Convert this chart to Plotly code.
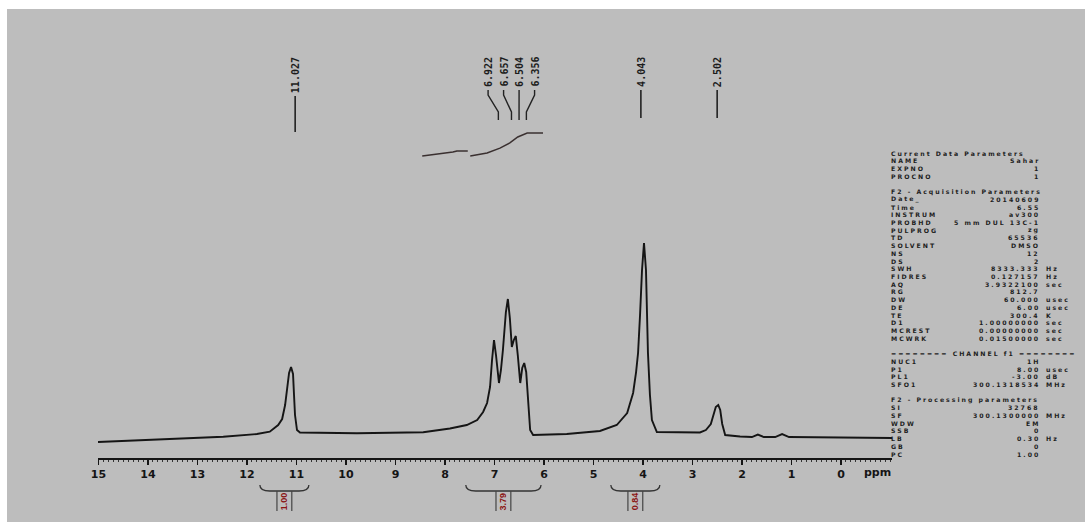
import plotly.graph_objects as go

W, H = 1085, 522

# ---------------- data ----------------
spec_ppm = [15.01, 13.49, 12.48, 11.80, 11.54, 11.37, 11.29, 11.23, 11.19, 11.15, 11.11, 11.07, 11.05, 11.03,
            10.99, 10.93, 9.78, 8.44, 7.90, 7.56, 7.35, 7.23, 7.15, 7.09, 7.05, 7.01, 6.97, 6.91, 6.87, 6.83,
            6.77, 6.73, 6.69, 6.65, 6.61, 6.57, 6.53, 6.48, 6.44, 6.40, 6.36, 6.32, 6.28, 6.22, 5.54, 4.87,
            4.53, 4.32, 4.20, 4.14, 4.10, 4.06, 4.02, 3.98, 3.94, 3.90, 3.86, 3.82, 3.72, 2.85, 2.73, 2.63,
            2.57, 2.53, 2.48, 2.44, 2.40, 2.34, 2.04, 1.80, 1.68, 1.56, 1.33, 1.19, 1.05, 0.42, -1.03]
spec_int = [-4.19, -2.62, -1.41, 0.0, 1.20, 4.71, 7.85, 15.18, 24.08, 31.94, 35.08, 31.41, 20.42, 9.95,
            2.09, 0.79, 0.37, 0.89, 2.88, 4.71, 7.33, 11.52, 16.23, 24.61, 38.74, 49.21, 41.36, 26.70, 33.51, 43.98,
            63.87, 70.68, 60.73, 45.55, 49.21, 51.31, 41.36, 26.70, 34.55, 37.17, 32.46, 15.18, 2.09, -0.52, 0.0, 1.57,
            4.71, 10.99, 21.47, 32.46, 42.41, 62.30, 85.86, 100.0, 85.86, 42.41, 20.42, 7.33, 1.05, 0.79, 2.09, 5.24,
            9.95, 14.14, 15.18, 12.57, 5.24, -0.52, -1.31, -1.57, -0.26, -1.57, -1.57, 0.0, -1.57, -1.83, -2.09]

peak_labels = ["11.027", "6.922", "6.657", "6.504", "6.356", "4.043", "2.502"]
peak_ppm = [11.027, 6.922, 6.657, 6.504, 6.356, 4.043, 2.502]

integral_labels = ["1.00", "3.79", "0.84"]
integral_start = [11.74, 7.58, 4.65]
integral_end = [10.75, 6.06, 3.66]

int_curve1_ppm = [8.46, 8.10, 7.90, 7.84, 7.76, 7.54]
int_curve1_val = [145.5, 146.6, 147.1, 147.6, 148.2, 148.2]
int_curve2_ppm = [7.49, 7.15, 6.89, 6.69, 6.53, 6.34, 6.02]
int_curve2_val = [145.5, 147.1, 149.7, 152.4, 155.5, 157.6, 157.6]

tick_values = list(range(0, 16))
tick_labels = [str(v) for v in tick_values]

param_keys = ["Current Data Parameters", "NAME", "EXPNO", "PROCNO", "",
              "F2 - Acquisition Parameters", "Date_", "Time", "INSTRUM", "PROBHD", "PULPROG", "TD",
              "SOLVENT", "NS", "DS", "SWH", "FIDRES", "AQ", "RG", "DW", "DE", "TE", "D1", "MCREST", "MCWRK", "",
              "======== CHANNEL f1 ========", "NUC1", "P1", "PL1", "SFO1", "",
              "F2 - Processing parameters", "SI", "SF", "WDW", "SSB", "LB", "GB", "PC"]
param_values = ["", "Sahar", "1", "1", "",
                "", "20140609", "6.55", "av300", "5 mm DUL 13C-1", "zg", "65536",
                "DMSO", "12", "2", "8333.333", "0.127157", "3.9322100", "812.7", "60.000", "6.00", "300.4",
                "1.00000000", "0.00000000", "0.01500000", "",
                "", "1H", "8.00", "-3.00", "300.1318534", "",
                "", "32768", "300.1300000", "EM", "0", "0.30", "0", "1.00"]
param_units = ["", "", "", "", "",
               "", "", "", "", "", "", "",
               "", "", "", "Hz", "Hz", "sec", "", "usec", "usec", "K", "sec", "sec", "sec", "",
               "", "", "usec", "dB", "MHz", "",
               "", "", "MHz", "", "", "Hz", "", ""]

# ---------------- layout helpers ----------------
def px(x):
    return x / W

def py(y):
    return 1 - y / H

def spaced(t, sp=2.0):
    return f'<span style="letter-spacing:{sp}px">{t}</span>'

BG = "#bdbdbd"
INK = "#151515"

fig = go.Figure()

fig.add_trace(go.Scatter(x=spec_ppm, y=spec_int, mode="lines",
                         line=dict(color=INK, width=1.9), hoverinfo="skip"))
fig.add_trace(go.Scatter(x=int_curve1_ppm, y=int_curve1_val, mode="lines",
                         line=dict(color="#3a3030", width=1.5), hoverinfo="skip"))
fig.add_trace(go.Scatter(x=int_curve2_ppm, y=int_curve2_val, mode="lines",
                         line=dict(color="#3a3030", width=1.5), hoverinfo="skip"))

shapes = [dict(type="rect", xref="paper", yref="paper", x0=px(7), x1=1, y0=0, y1=py(9),
               fillcolor=BG, line=dict(width=0), layer="below")]
annotations = []

# peak labels
mono = "DejaVu Sans Mono"
multiplet = [1, 2, 3, 4]
centre = 6.66
spacing = 0.313
line_bottom = {0: 132, 5: 118, 6: 118}
for i, (lab, p) in enumerate(zip(peak_labels, peak_ppm)):
    if i in multiplet:
        k = multiplet.index(i)
        lx = centre + spacing * (1.5 - k)
        path = f"M {lx},{py(90)} L {lx},{py(95)} L {p},{py(112)} L {p},{py(120)}"
        shapes.append(dict(type="path", xref="x", yref="paper", path=path,
                           line=dict(color="#222", width=1.4)))
        annotations.append(dict(x=lx, y=py(57 + len(lab) * 3.0), xref="x", yref="paper",
                                text=lab, textangle=-90, showarrow=False, borderpad=0,
                                font=dict(family=mono, size=10, color="#1c1c1c", weight="bold"),
                                xanchor="center", yanchor="middle"))
    else:
        bottom_text = 57 + len(lab) * 6.0
        shapes.append(dict(type="line", xref="x", yref="paper", x0=p, x1=p,
                           y0=py(bottom_text + 3), y1=py(line_bottom[i]),
                           line=dict(color="#222", width=1.6)))
        annotations.append(dict(x=p, y=py(57 + len(lab) * 3.0), xref="x", yref="paper",
                                text=lab, textangle=-90, showarrow=False, borderpad=0,
                                font=dict(family=mono, size=10, color="#1c1c1c", weight="bold"),
                                xanchor="center", yanchor="middle"))

# integral brackets
for lab, a, b in zip(integral_labels, integral_start, integral_end):
    c = (a + b) / 2
    r = 0.2
    path = (f"M {a},{py(485)} Q {a},{py(491)} {a - r},{py(491)} "
            f"L {b + r},{py(491)} Q {b},{py(491)} {b},{py(485)}")
    shapes.append(dict(type="path", xref="x", yref="paper", path=path,
                       line=dict(color="#333", width=1.3)))
    for dx in (-0.15, 0.15):
        shapes.append(dict(type="line", xref="x", yref="paper", x0=c + dx, x1=c + dx,
                           y0=py(491), y1=py(511), line=dict(color="#444", width=1.2)))
    annotations.append(dict(x=c, y=py(501), xref="x", yref="paper", text=lab, textangle=-90,
                            showarrow=False, xanchor="center", yanchor="middle", borderpad=0,
                            font=dict(family="Liberation Sans", size=9, color="#8b1414", weight="bold")))

# ppm label
annotations.append(dict(x=px(877), y=py(472), xref="paper", yref="paper", text="ppm",
                        showarrow=False, xanchor="center", yanchor="middle",
                        font=dict(family="DejaVu Sans", size=11, color=INK, weight="bold")))

# parameter panel
pfont = dict(family="DejaVu Sans", size=6.2, color="#1e1e1e", weight="bold")
for i, (k, v, u) in enumerate(zip(param_keys, param_values, param_units)):
    yy = py(153 + i * 7.72)
    if k:
        annotations.append(dict(x=px(890), y=yy, xref="paper", yref="paper", text=spaced(k), showarrow=False,
                                xanchor="left", yanchor="middle", font=pfont, borderpad=0))
    if v:
        annotations.append(dict(x=px(1041), y=yy, xref="paper", yref="paper", text=spaced(v), showarrow=False,
                                xanchor="right", yanchor="middle", font=pfont, borderpad=0))
    if u:
        annotations.append(dict(x=px(1045), y=yy, xref="paper", yref="paper", text=spaced(u), showarrow=False,
                                xanchor="left", yanchor="middle", font=pfont, borderpad=0))

fig.update_layout(
    width=W, height=H,
    margin=dict(l=0, r=0, t=0, b=0, pad=0),
    paper_bgcolor="white", plot_bgcolor="rgba(0,0,0,0)",
    showlegend=False, hovermode=False,
    shapes=shapes, annotations=annotations,
    xaxis=dict(domain=[px(98), px(892)], range=[15.01, -1.03], anchor="free", position=py(458),
               showgrid=False, zeroline=False, showline=True, linecolor=INK, linewidth=1.5,
               tickmode="array", tickvals=tick_values, ticktext=tick_labels,
               ticks="outside", ticklen=5, tickwidth=1.5, tickcolor=INK,
               tickfont=dict(family="DejaVu Sans", size=11, color=INK, weight="bold"),
               minor=dict(dtick=0.1, ticks="outside", ticklen=2, tickwidth=1, tickcolor="#333"),
               automargin=False, fixedrange=True),
    yaxis=dict(domain=[0, 1], range=[-46.07, 227.23], visible=False, showgrid=False,
               zeroline=False, automargin=False, fixedrange=True),
)

fig.write_html("out.html", config={"displayModeBar": False, "staticPlot": True},
               post_script="document.body.style.margin='0';")
